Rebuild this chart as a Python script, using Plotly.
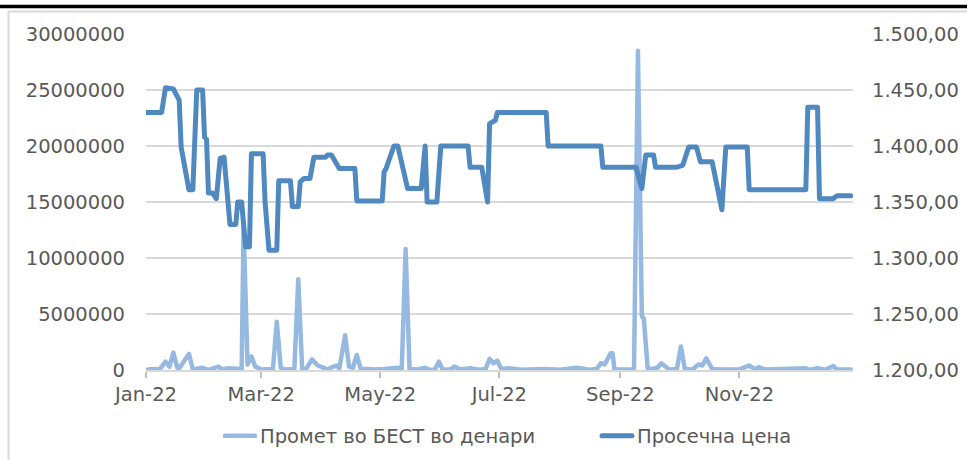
import plotly.graph_objects as go

# ---------------- data ----------------
price_dates = [
    "2022-01-01", "2022-01-09", "2022-01-11", "2022-01-15", "2022-01-18", "2022-01-19",
    "2022-01-23", "2022-01-25", "2022-01-27", "2022-01-30", "2022-01-31", "2022-02-01",
    "2022-02-02", "2022-02-04", "2022-02-06", "2022-02-08", "2022-02-10", "2022-02-13",
    "2022-02-16", "2022-02-17", "2022-02-19", "2022-02-21", "2022-02-23", "2022-02-24",
    "2022-03-02", "2022-03-03", "2022-03-05", "2022-03-09", "2022-03-10", "2022-03-16",
    "2022-03-17", "2022-03-20", "2022-03-21", "2022-03-23", "2022-03-26", "2022-03-28",
    "2022-04-03", "2022-04-04", "2022-04-06", "2022-04-10", "2022-04-18", "2022-04-19",
    "2022-05-02", "2022-05-03", "2022-05-04", "2022-05-08", "2022-05-10", "2022-05-15",
    "2022-05-22", "2022-05-24", "2022-05-25", "2022-05-30", "2022-06-01", "2022-06-15",
    "2022-06-16", "2022-06-22", "2022-06-25", "2022-06-26", "2022-06-29", "2022-06-30",
    "2022-07-25", "2022-07-26", "2022-08-22", "2022-08-23", "2022-09-09", "2022-09-12",
    "2022-09-14", "2022-09-18", "2022-09-19", "2022-09-30", "2022-10-03", "2022-10-06",
    "2022-10-10", "2022-10-12", "2022-10-18", "2022-10-23", "2022-10-25", "2022-11-05",
    "2022-11-06", "2022-12-05", "2022-12-06", "2022-12-11", "2022-12-12", "2022-12-19",
    "2022-12-21", "2022-12-28",
]
price_values = [
    1430, 1430, 1452, 1451, 1441, 1399,
    1361, 1361, 1450, 1450, 1408, 1406,
    1358, 1358, 1353, 1389, 1390, 1330,
    1330, 1350, 1350, 1310, 1310, 1393,
    1393, 1350, 1307, 1307, 1369, 1369,
    1346, 1346, 1368, 1371, 1371, 1390,
    1390, 1392, 1392, 1380, 1380, 1351,
    1351, 1377, 1380, 1400, 1400, 1362,
    1362, 1400, 1350, 1350, 1400, 1400,
    1381, 1381, 1350, 1420, 1423, 1430,
    1430, 1400, 1400, 1381, 1381, 1362,
    1392, 1392, 1381, 1381, 1383, 1399,
    1399, 1386, 1386, 1343, 1399, 1399,
    1361, 1361, 1434.5, 1434.5, 1353, 1353,
    1355.5, 1355.5,
]

turnover_dates = [
    "2022-01-01", "2022-01-04", "2022-01-08", "2022-01-11", "2022-01-13", "2022-01-15",
    "2022-01-17", "2022-01-18", "2022-01-23", "2022-01-25", "2022-01-30", "2022-02-02",
    "2022-02-07", "2022-02-09", "2022-02-12", "2022-02-17", "2022-02-19", "2022-02-20",
    "2022-02-22", "2022-02-24", "2022-02-26", "2022-03-01", "2022-03-05", "2022-03-07",
    "2022-03-09", "2022-03-11", "2022-03-13", "2022-03-18", "2022-03-20", "2022-03-22",
    "2022-03-24", "2022-03-27", "2022-03-30", "2022-04-01", "2022-04-04", "2022-04-07",
    "2022-04-09", "2022-04-10", "2022-04-13", "2022-04-15", "2022-04-17", "2022-04-19",
    "2022-04-21", "2022-04-24", "2022-04-28", "2022-05-03", "2022-05-07", "2022-05-10",
    "2022-05-12", "2022-05-14", "2022-05-16", "2022-05-20", "2022-05-24", "2022-05-26",
    "2022-05-29", "2022-05-31", "2022-06-02", "2022-06-06", "2022-06-08", "2022-06-11",
    "2022-06-16", "2022-06-21", "2022-06-24", "2022-06-26", "2022-06-28", "2022-06-30",
    "2022-07-02", "2022-07-06", "2022-07-12", "2022-07-25", "2022-08-01", "2022-08-10",
    "2022-08-16", "2022-08-20", "2022-08-22", "2022-08-24", "2022-08-27", "2022-08-28",
    "2022-08-29", "2022-09-08", "2022-09-10", "2022-09-12", "2022-09-13", "2022-09-15",
    "2022-09-17", "2022-09-20", "2022-09-22", "2022-09-26", "2022-09-30", "2022-10-02",
    "2022-10-04", "2022-10-08", "2022-10-11", "2022-10-13", "2022-10-15", "2022-10-18",
    "2022-10-22", "2022-10-27", "2022-11-01", "2022-11-06", "2022-11-09", "2022-11-11",
    "2022-11-14", "2022-12-05", "2022-12-07", "2022-12-11", "2022-12-15", "2022-12-19",
    "2022-12-21", "2022-12-28",
]
turnover_values = [
    0, 100000, 50000, 740000, 300000, 1550000,
    200000, 150000, 1430000, 50000, 200000, 20000,
    300000, 50000, 150000, 50000, 100000, 12800000,
    500000, 1200000, 300000, 50000, 100000, 100000,
    4300000, 200000, 50000, 100000, 8100000, 50000,
    100000, 950000, 400000, 300000, 50000, 300000,
    400000, 100000, 3100000, 300000, 200000, 1340000,
    100000, 100000, 50000, 100000, 150000, 200000,
    100000, 10800000, 100000, 50000, 200000, 20000,
    50000, 740000, 50000, 50000, 300000, 50000,
    150000, 20000, 100000, 1000000, 600000, 830000,
    100000, 150000, 20000, 100000, 20000, 200000,
    20000, 100000, 600000, 500000, 1500000, 1500000,
    50000, 50000, 28500000, 4800000, 4600000, 150000,
    100000, 200000, 600000, 50000, 100000, 2100000,
    100000, 50000, 500000, 400000, 1040000, 100000,
    50000, 100000, 50000, 400000, 50000, 250000,
    50000, 150000, 20000, 150000, 20000, 360000,
    50000, 50000,
]

tick_dates = ["2022-01-01", "2022-03-01", "2022-05-01", "2022-07-01", "2022-09-01", "2022-11-01"]
tick_labels = ["Jan-22", "Mar-22", "May-22", "Jul-22", "Sep-22", "Nov-22"]

name_turnover = "Промет во БЕСТ во денари"
name_price = "Просечна цена"

# ---------------- figure ----------------
TXT = "#595959"
GRID = "#D9D9D9"
C_LIGHT = "#96B9E1"
C_DARK = "#4F89C0"
FS = 19.5

fig = go.Figure()
fig.add_trace(go.Scatter(
    x=turnover_dates, y=turnover_values, name=name_turnover, mode="lines",
    line=dict(color=C_LIGHT, width=4.5), yaxis="y", legend="legend",
))
fig.add_trace(go.Scatter(
    x=price_dates, y=price_values, name=name_price, mode="lines",
    line=dict(color=C_DARK, width=5), yaxis="y2", legend="legend2",
))

L, R, T, B = 146, 114, 34, 90
W, H = 967, 460
pw, ph = W - L - R, H - T - B

def px_x(p):
    return (p - L) / pw

def px_y(p):
    return (H - B - p) / ph

legend_common = dict(orientation="h", xanchor="left", yanchor="middle",
                     font=dict(size=FS, color=TXT), bgcolor="rgba(0,0,0,0)")

fig.update_layout(
    width=W, height=H,
    margin=dict(l=L, r=R, t=T, b=B, autoexpand=False),
    paper_bgcolor="white", plot_bgcolor="white",
    separators=",.",
    font=dict(family="DejaVu Sans", size=FS, color=TXT),
    showlegend=True,
    legend=dict(x=px_x(220), y=px_y(436), **legend_common),
    legend2=dict(x=px_x(597), y=px_y(436), **legend_common),
    xaxis=dict(
        type="date", range=["2022-01-01", "2022-12-29 04:00"],
        tickmode="array", tickvals=tick_dates, ticktext=tick_labels,
        ticks="outside", ticklen=6, tickwidth=1.5, tickcolor="#BFBFBF",
        showgrid=False, zeroline=False, showline=True, linecolor=GRID, linewidth=2,
        ticklabelstandoff=0,
    ),
    yaxis=dict(
        range=[0, 30000000], tickmode="linear", tick0=0, dtick=5000000, tickformat="d",
        showgrid=True, gridcolor=GRID, gridwidth=2, zeroline=False, showline=False,
        ticks="", ticklabelstandoff=20,
    ),
    yaxis2=dict(
        overlaying="y", side="right", range=[1200, 1500], tickmode="linear", tick0=1200, dtick=50,
        tickformat=",.2f", showgrid=False, zeroline=False, showline=False,
        ticks="", ticklabelstandoff=18,
    ),
    shapes=[
        dict(type="line", xref="paper", yref="paper", x0=px_x(0), x1=px_x(W), y0=px_y(6.5), y1=px_y(6.5),
             line=dict(color="black", width=3.5)),
        dict(type="line", xref="paper", yref="paper", x0=px_x(8.5), x1=px_x(W), y0=px_y(11.5), y1=px_y(11.5),
             line=dict(color=GRID, width=2)),
        dict(type="line", xref="paper", yref="paper", x0=px_x(8.5), x1=px_x(8.5), y0=px_y(11.5), y1=px_y(H),
             line=dict(color=GRID, width=2)),
    ],
)

post = ("document.body.style.margin='0';"
        "document.querySelectorAll('path.js-line').forEach(function(p){"
        "p.style.strokeLinejoin='round';p.style.strokeLinecap='round';});")
fig.write_html("out.html", post_script=post, config={"displayModeBar": False})
